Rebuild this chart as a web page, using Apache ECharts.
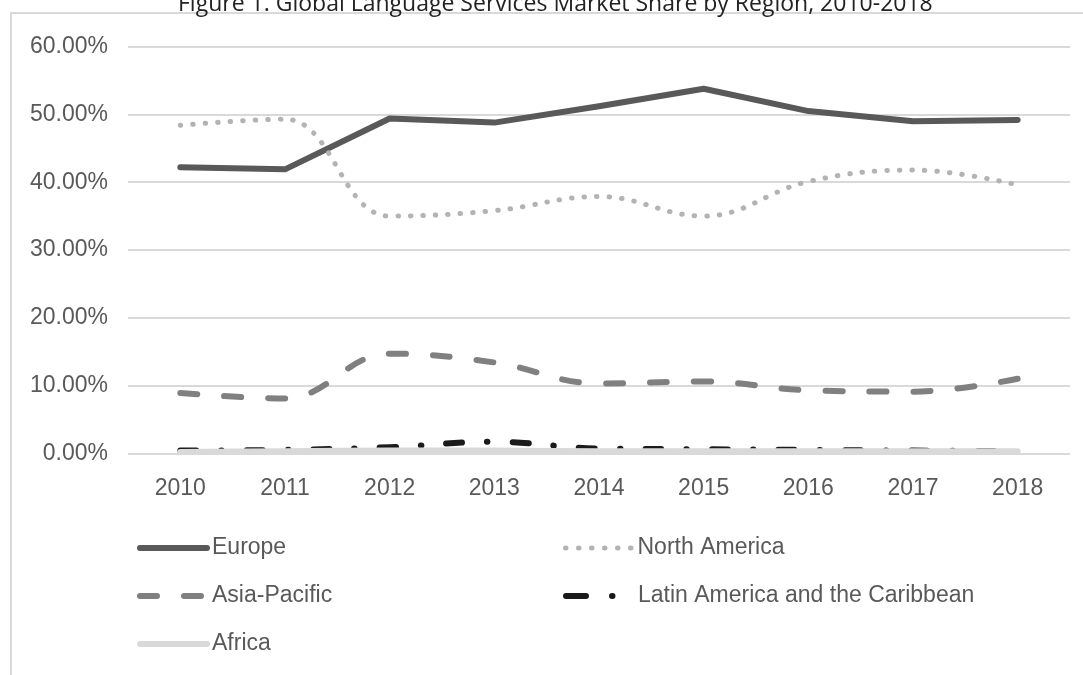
<!DOCTYPE html>
<html>
<head>
<meta charset="utf-8">
<script src="https://cdn.jsdelivr.net/npm/echarts@6/dist/echarts.min.js"></script>
<style>
html,body{margin:0;padding:0;background:#fff;}
#chart{width:1083px;height:675px;}
</style>
</head>
<body>
<div id="chart"></div>
<script>
const titleText = 'Figure 1. Global Language Services Market Share by Region, 2010-2018';
const years = ['2010','2011','2012','2013','2014','2015','2016','2017','2018'];
const europe = [42.2, 41.9, 49.4, 48.8, 51.2, 53.8, 50.5, 49.0, 49.2];
const northAmerica = [48.4, 49.3, 35.0, 35.8, 37.9, 35.0, 40.1, 41.8, 39.6];
const asiaPacific = [8.9, 8.1, 14.7, 13.4, 10.3, 10.6, 9.3, 9.1, 11.0];
const latinAmerica = [0.4, 0.5, 0.9, 1.7, 0.7, 0.6, 0.5, 0.4, 0.3];
const africa = [0.2, 0.3, 0.4, 0.4, 0.3, 0.3, 0.3, 0.3, 0.3];
const yTicks = [0, 10, 20, 30, 40, 50, 60];

const labelColor = '#595959';
const font = 'Liberation Sans, Arial, sans-serif';

const styles = {
  'Europe': {color:'#595959', width:6, type:'solid', legendType:'solid', cap:'round', smooth:false},
  'North America': {color:'#b3b3b3', width:5, type:[0.5,12], legendType:[0.5,12.5], cap:'round', smooth:0.4},
  'Asia-Pacific': {color:'#808080', width:6, type:[17,27], legendType:[17,27], cap:'round', smooth:0.4},
  'Latin America and the Caribbean': {color:'#1a1a1a', width:6, type:[16,25,0.5,25], legendType:[20,26,0.5,60], cap:'round', smooth:0.4},
  'Africa': {color:'#d9d9d9', width:6, type:'solid', legendType:'solid', cap:'round', smooth:0.3}
};
const seriesData = [
  ['Europe', europe],
  ['North America', northAmerica],
  ['Asia-Pacific', asiaPacific],
  ['Latin America and the Caribbean', latinAmerica],
  ['Africa', africa]
];
const legendPos = {
  'Europe': [137, 536],
  'North America': [563, 536],
  'Asia-Pacific': [137, 584],
  'Latin America and the Caribbean': [563, 584],
  'Africa': [137, 632]
};

const chart = echarts.init(document.getElementById('chart'), null, {renderer:'canvas'});
const option = {
  animation: false,
  backgroundColor: '#ffffff',
  title: {
    text: titleText,
    left: 178,
    top: -7,
    padding: 0,
    textStyle: {fontFamily: 'Open Sans, sans-serif', fontSize: 23, fontWeight: 'normal', color: '#222'}
  },
  graphic: [{
    type: 'rect',
    shape: {x: 11, y: 13, width: 1200, height: 800},
    style: {fill: 'none', stroke: '#d9d9d9', lineWidth: 2},
    silent: true
  }],
  grid: {left: 128, right: 13, top: 46.7, bottom: 221.7, containLabel: false},
  xAxis: {
    type: 'category',
    data: years,
    boundaryGap: true,
    axisLine: {show: false},
    axisTick: {show: false},
    axisLabel: {color: labelColor, fontFamily: font, fontSize: 23, margin: 24}
  },
  yAxis: {
    type: 'value',
    min: yTicks[0],
    max: yTicks[yTicks.length-1],
    interval: 10,
    axisLine: {show: false},
    axisTick: {show: false},
    splitLine: {lineStyle: {color: '#d9d9d9', width: 2}},
    axisLabel: {color: labelColor, fontFamily: font, fontSize: 23, margin: 20,
      formatter: v => v.toFixed(2) + '%'}
  },
  legend: seriesData.map(([name]) => {
    const s = styles[name];
    return {
      data: [name],
      left: legendPos[name][0],
      top: legendPos[name][1],
      padding: 0,
      itemWidth: 67,
      itemHeight: 24,
      selectedMode: false,
      itemStyle: {opacity: 0},
      lineStyle: {width: s.width, type: s.legendType, cap: s.cap, color: s.color},
      textStyle: {color: labelColor, fontFamily: font, fontSize: 23, lineHeight: 24}
    };
  }),
  series: seriesData.map(([name, data]) => {
    const s = styles[name];
    return {
      name: name,
      type: 'line',
      data: data,
      symbol: 'none',
      smooth: s.smooth,
      color: s.color,
      lineStyle: {color: s.color, width: s.width, type: s.type, cap: s.cap, join: 'round'}
    };
  })
};
chart.setOption(option);
</script>
</body>
</html>
